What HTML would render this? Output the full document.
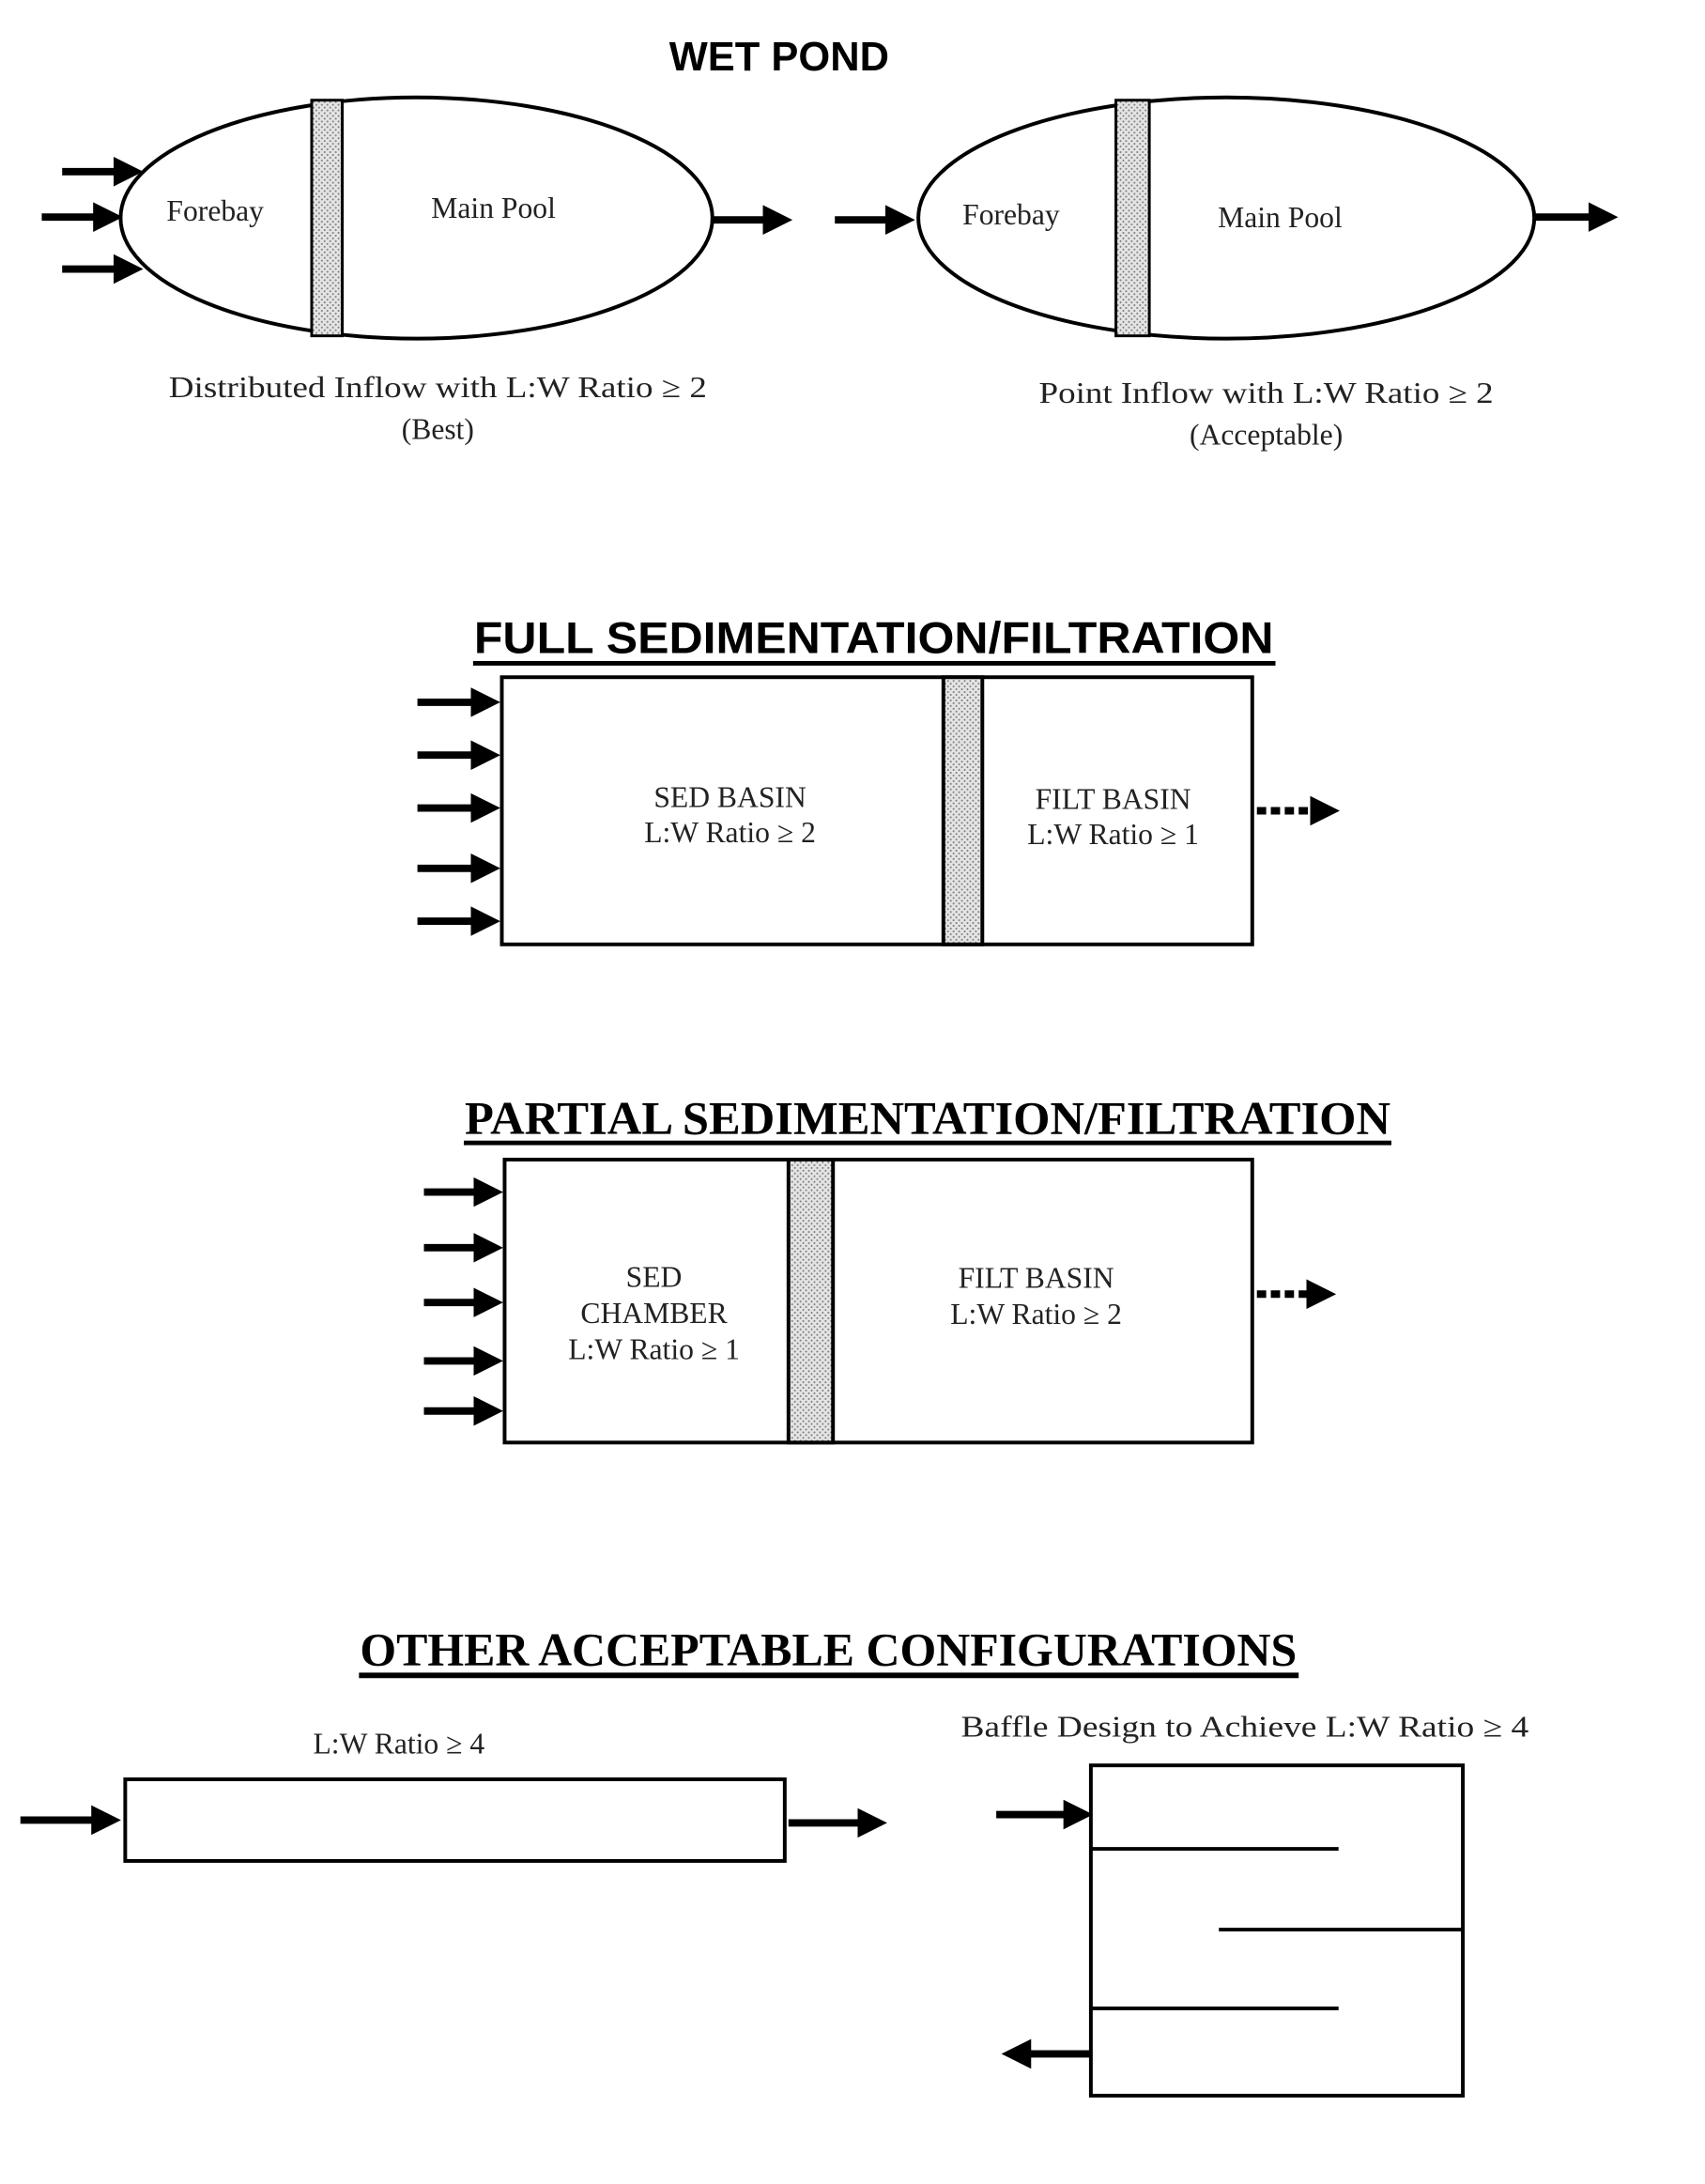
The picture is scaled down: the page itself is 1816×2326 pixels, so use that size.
<!DOCTYPE html>
<html><head><meta charset="utf-8"><style>
html,body{margin:0;padding:0;background:#fff;}
svg{display:block;}
.s{font-family:"Liberation Serif",serif;fill:#222;}
</style></head><body>
<svg width="1816" height="2326" viewBox="0 0 1816 2326" xmlns="http://www.w3.org/2000/svg">
<defs>
<pattern id="dots" width="6" height="6" patternUnits="userSpaceOnUse">
<rect width="6" height="6" fill="#e4e4e4"/>
<circle cx="2" cy="2" r="1" fill="#777"/><circle cx="5" cy="5" r="1" fill="#777"/>
</pattern>
<marker id="ah" markerWidth="4" markerHeight="4" refX="2.2" refY="2" orient="auto" markerUnits="strokeWidth">
<path d="M0,0 L4,2 L0,4 z" fill="#000"/>
</marker>
</defs>
<g transform="scale(0.988)">
<g stroke="#000" stroke-width="4" fill="none">
<ellipse cx="449" cy="235" rx="319" ry="130" fill="#fff"/>
<rect x="336" y="108" width="33" height="254" fill="url(#dots)" stroke-width="3"/>
<ellipse cx="1322" cy="235" rx="332" ry="130" fill="#fff"/>
<rect x="1203" y="108" width="36" height="254" fill="url(#dots)" stroke-width="3"/>
<rect x="541" y="730" width="809" height="288" fill="#fff"/>
<rect x="1017" y="730" width="42" height="288" fill="url(#dots)"/>
<rect x="544" y="1250" width="806" height="305" fill="#fff"/>
<rect x="850" y="1250" width="48" height="305" fill="url(#dots)"/>
<rect x="135" y="1918" width="711" height="88" fill="#fff"/>
<rect x="1176" y="1903" width="401" height="356" fill="#fff"/>
<line x1="1176" y1="1993" x2="1443" y2="1993"/>
<line x1="1314" y1="2080" x2="1577" y2="2080"/>
<line x1="1176" y1="2165" x2="1443" y2="2165"/>
</g>
<g stroke="#000" stroke-width="8" fill="none" marker-end="url(#ah)">
<line x1="67" y1="185" x2="140" y2="185"/>
<line x1="45" y1="234" x2="118" y2="234"/>
<line x1="67" y1="290" x2="140" y2="290"/>
<line x1="768" y1="237" x2="840" y2="237"/>
<line x1="900" y1="237" x2="972" y2="237"/>
<line x1="1655" y1="234" x2="1730" y2="234"/>
<line x1="450" y1="757" x2="525" y2="757"/>
<line x1="450" y1="814" x2="525" y2="814"/>
<line x1="450" y1="871" x2="525" y2="871"/>
<line x1="450" y1="936" x2="525" y2="936"/>
<line x1="450" y1="993" x2="525" y2="993"/>
<line x1="1355" y1="874" x2="1430" y2="874" stroke-dasharray="10 5"/>
<line x1="457" y1="1285" x2="528" y2="1285"/>
<line x1="457" y1="1345" x2="528" y2="1345"/>
<line x1="457" y1="1404" x2="528" y2="1404"/>
<line x1="457" y1="1467" x2="528" y2="1467"/>
<line x1="457" y1="1521" x2="528" y2="1521"/>
<line x1="1355" y1="1395" x2="1426" y2="1395" stroke-dasharray="10 5"/>
<line x1="22" y1="1962" x2="116" y2="1962"/>
<line x1="850" y1="1965" x2="942" y2="1965"/>
<line x1="1074" y1="1956" x2="1164" y2="1956"/>
<line x1="1176" y1="2214" x2="1094" y2="2214"/>
</g>
<text x="840" y="76" text-anchor="middle" font-family="Liberation Sans,sans-serif" font-weight="bold" font-size="44" fill="#000">WET POND</text>
<text x="942" y="704" text-anchor="middle" font-family="Liberation Sans,sans-serif" font-weight="bold" font-size="48" fill="#000" textLength="862" lengthAdjust="spacingAndGlyphs">FULL SEDIMENTATION/FILTRATION</text>
<line x1="510" y1="715" x2="1375" y2="715" stroke="#000" stroke-width="5"/>
<text x="1000" y="1222" text-anchor="middle" font-family="Liberation Serif,serif" font-weight="bold" font-size="50" fill="#000" textLength="998" lengthAdjust="spacingAndGlyphs">PARTIAL SEDIMENTATION/FILTRATION</text>
<line x1="500" y1="1232" x2="1500" y2="1232" stroke="#000" stroke-width="5"/>
<text x="893" y="1795" text-anchor="middle" font-family="Liberation Serif,serif" font-weight="bold" font-size="50" fill="#000" textLength="1010" lengthAdjust="spacingAndGlyphs">OTHER ACCEPTABLE CONFIGURATIONS</text>
<line x1="387" y1="1806" x2="1400" y2="1806" stroke="#000" stroke-width="6"/>
<g class="s" font-size="32" text-anchor="middle">
<text x="232" y="238">Forebay</text>
<text x="532" y="235">Main Pool</text>
<text x="1090" y="242">Forebay</text>
<text x="1380" y="245">Main Pool</text>
<text x="472" y="428" textLength="580" lengthAdjust="spacingAndGlyphs">Distributed Inflow with L:W Ratio ≥ 2</text>
<text x="472" y="473">(Best)</text>
<text x="1365" y="434" textLength="490" lengthAdjust="spacingAndGlyphs">Point Inflow with L:W Ratio ≥ 2</text>
<text x="1365" y="479">(Acceptable)</text>
<text x="787" y="870">SED BASIN</text>
<text x="787" y="908">L:W Ratio ≥ 2</text>
<text x="1200" y="872">FILT BASIN</text>
<text x="1200" y="910">L:W Ratio ≥ 1</text>
<text x="705" y="1387">SED</text>
<text x="705" y="1426">CHAMBER</text>
<text x="705" y="1465">L:W Ratio ≥ 1</text>
<text x="1117" y="1388">FILT BASIN</text>
<text x="1117" y="1427">L:W Ratio ≥ 2</text>
<text x="430" y="1890">L:W Ratio ≥ 4</text>
<text x="1342" y="1872" textLength="612" lengthAdjust="spacingAndGlyphs">Baffle Design to Achieve L:W Ratio ≥ 4</text>
</g>
</g>
</svg>
</body></html>
